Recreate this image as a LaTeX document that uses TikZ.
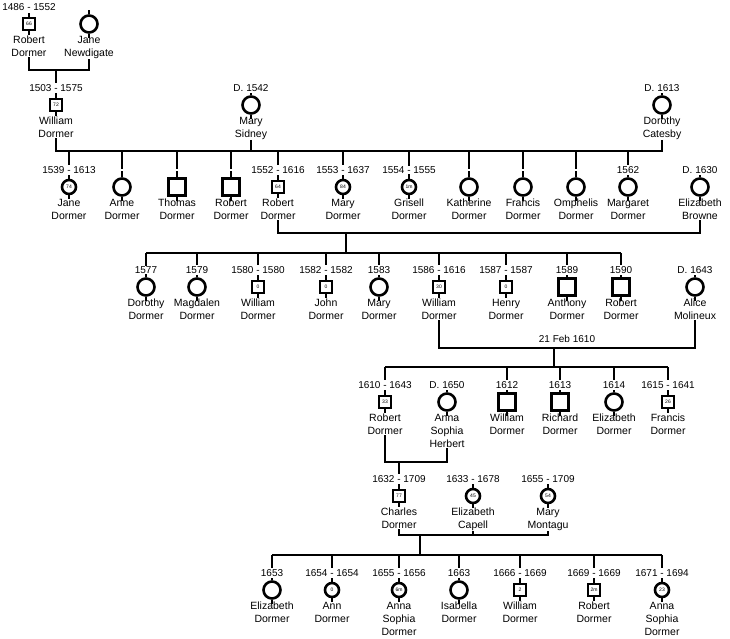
\documentclass[tikz,border=0pt]{standalone}
\usepackage{fontspec}
\setmainfont{Liberation Sans}
\usetikzlibrary{backgrounds}
\tikzset{x=1pt,y=-1pt,
 sym/.style={draw,line width=2.6pt,fill=white,inner sep=0pt,font=\fontsize{5}{5}\selectfont},
 sqb/.style={sym,rectangle,minimum size=17pt},
 sqs/.style={sym,rectangle,minimum size=12pt},
 cib/.style={sym,circle,minimum size=17pt},
 cis/.style={sym,circle,minimum size=14pt},
 datel/.style={fill=white,inner sep=1pt,font=\fontsize{10}{12}\selectfont},
 namel/.style={anchor=north,inner sep=0pt,align=center,font=\fontsize{10.5}{13}\selectfont},
 conn/.style={line width=2.6pt},
}
\newcommand\psn[7]{%
 \node[#4] (#1) at (#2,#3) {#5};
 \node[datel] (#1d) at (#2,#3-17) {#6};
 \node[namel] (#1n) at (#2,#3+12) {#7};
 \begin{scope}[on background layer]
 \draw[conn] (#1.south) -- ++(0,4);
 \draw[conn] (#1.north) -- ++(0,-4);
 \end{scope}}
\begin{document}
\begin{tikzpicture}
\useasboundingbox (0,0) rectangle (730,638);
% gen 0
\psn{a1}{29}{24}{sqs}{66}{1486 - 1552}{Robert\\Dormer}
\psn{a2}{89}{24}{cib}{}{}{Jane\\Newdigate}
% gen 1
\psn{b1}{56}{105}{sqs}{72}{1503 - 1575}{William\\Dormer}
\psn{b2}{251}{105}{cib}{}{D. 1542}{Mary\\Sidney}
\psn{b3}{662}{105}{cib}{}{D. 1613}{Dorothy\\Catesby}
% gen 2
\psn{c1}{69}{187}{cis}{74}{1539 - 1613}{Jane\\Dormer}
\psn{c2}{122}{187}{cib}{}{}{Anne\\Dormer}
\psn{c3}{177}{187}{sqb}{}{}{Thomas\\Dormer}
\psn{c4}{231}{187}{sqb}{}{}{Robert\\Dormer}
\psn{c5}{278}{187}{sqs}{64}{1552 - 1616}{Robert\\Dormer}
\psn{c6}{343}{187}{cis}{84}{1553 - 1637}{Mary\\Dormer}
\psn{c7}{409}{187}{cis}{1m}{1554 - 1555}{Grisell\\Dormer}
\psn{c8}{469}{187}{cib}{}{}{Katherine\\Dormer}
\psn{c9}{523}{187}{cib}{}{}{Francis\\Dormer}
\psn{c10}{576}{187}{cib}{}{}{Omphelis\\Dormer}
\psn{c11}{628}{187}{cib}{}{1562}{Margaret\\Dormer}
\psn{c12}{700}{187}{cib}{}{D. 1630}{Elizabeth\\Browne}
% gen 3
\psn{d1}{146}{287}{cib}{}{1577}{Dorothy\\Dormer}
\psn{d2}{197}{287}{cib}{}{1579}{Magdalen\\Dormer}
\psn{d3}{258}{287}{sqs}{0}{1580 - 1580}{William\\Dormer}
\psn{d4}{326}{287}{sqs}{0}{1582 - 1582}{John\\Dormer}
\psn{d5}{379}{287}{cib}{}{1583}{Mary\\Dormer}
\psn{d6}{439}{287}{sqs}{30}{1586 - 1616}{William\\Dormer}
\psn{d7}{506}{287}{sqs}{0}{1587 - 1587}{Henry\\Dormer}
\psn{d8}{567}{287}{sqb}{}{1589}{Anthony\\Dormer}
\psn{d9}{621}{287}{sqb}{}{1590}{Robert\\Dormer}
\psn{d10}{695}{287}{cib}{}{D. 1643}{Alice\\Molineux}
% gen 4
\psn{e1}{385}{402}{sqs}{33}{1610 - 1643}{Robert\\Dormer}
\psn{e2}{447}{402}{cib}{}{D. 1650}{Anna\\Sophia\\Herbert}
\psn{e3}{507}{402}{sqb}{}{1612}{William\\Dormer}
\psn{e4}{560}{402}{sqb}{}{1613}{Richard\\Dormer}
\psn{e5}{614}{402}{cib}{}{1614}{Elizabeth\\Dormer}
\psn{e6}{668}{402}{sqs}{26}{1615 - 1641}{Francis\\Dormer}
% gen 5
\psn{f1}{399}{496}{sqs}{77}{1632 - 1709}{Charles\\Dormer}
\psn{f2}{473}{496}{cis}{45}{1633 - 1678}{Elizabeth\\Capell}
\psn{f3}{548}{496}{cis}{54}{1655 - 1709}{Mary\\Montagu}
% gen 6
\psn{g1}{272}{590}{cib}{}{1653}{Elizabeth\\Dormer}
\psn{g2}{332}{590}{cis}{0}{1654 - 1654}{Ann\\Dormer}
\psn{g3}{399}{590}{cis}{6m}{1655 - 1656}{Anna\\Sophia\\Dormer}
\psn{g4}{459}{590}{cib}{}{1663}{Isabella\\Dormer}
\psn{g5}{520}{590}{sqs}{2}{1666 - 1669}{William\\Dormer}
\psn{g6}{594}{590}{sqs}{2m}{1669 - 1669}{Robert\\Dormer}
\psn{g7}{662}{590}{cis}{23}{1671 - 1694}{Anna\\Sophia\\Dormer}
\node[font=\fontsize{10}{12}\selectfont] (lbl) at (567,339) {21 Feb 1610};
\coordinate (m0) at (56,70);
\coordinate (B1) at (0,151);
\coordinate (M2) at (0,233);
\coordinate (m2) at (346,233);
\coordinate (B2) at (0,253);
\coordinate (M3) at (0,348);
\coordinate (m3) at (554,348);
\coordinate (B3) at (0,367);
\coordinate (M4) at (0,462);
\coordinate (m4) at (399,462);
\coordinate (M5) at (0,535);
\coordinate (m5) at (420,535);
\coordinate (B5) at (0,555);
\begin{scope}[on background layer]
% gen0 couple
\draw[conn] (a1n.south) -- (a1n.south |- m0) -- (a2n.south |- m0) -- (a2n.south);
\draw[conn] (m0) -- (b1);
% gen1 family
\draw[conn] (b1n.south) -- (b1n.south |- B1) -- (b3n.south |- B1) -- (b3n.south);
\draw[conn] (b2n.south) -- (b2n.south |- B1);
\foreach \c in {c1,c2,c3,c4,c5,c6,c7,c8,c9,c10,c11} \draw[conn] (\c |- B1) -- (\c);
% gen2 couple
\draw[conn] (c5n.south) -- (c5n.south |- M2) -- (c12n.south |- M2) -- (c12n.south);
\draw[conn] (m2) -- (m2 |- B2);
\draw[conn] (d1 |- B2) -- (d9 |- B2);
\foreach \c in {d1,d2,d3,d4,d5,d6,d7,d8,d9} \draw[conn] (\c |- B2) -- (\c);
% gen3 couple
\draw[conn] (d6n.south) -- (d6n.south |- M3) -- (d10n.south |- M3) -- (d10n.south);
\draw[conn] (m3) -- (m3 |- B3);
\draw[conn] (e1 |- B3) -- (e6 |- B3);
\foreach \c in {e1,e3,e4,e5,e6} \draw[conn] (\c |- B3) -- (\c);
% gen4 couple
\draw[conn] (e1n.south) -- (e1n.south |- M4) -- (e2n.south |- M4) -- (e2n.south);
\draw[conn] (m4) -- (f1);
% gen5
\draw[conn] (f1n.south) -- (f1n.south |- M5) -- (f3n.south |- M5) -- (f3n.south);
\draw[conn] (f2n.south) -- (f2n.south |- M5);
\draw[conn] (m5) -- (m5 |- B5);
\draw[conn] (g1 |- B5) -- (g7 |- B5);
\foreach \c in {g1,g2,g3,g4,g5,g6,g7} \draw[conn] (\c |- B5) -- (\c);
\end{scope}
\end{tikzpicture}
\end{document}
